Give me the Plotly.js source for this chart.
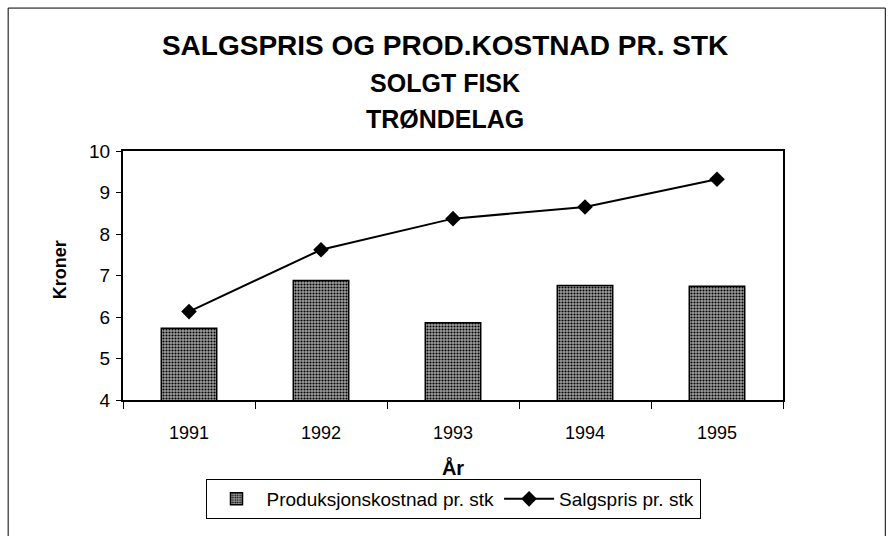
<!DOCTYPE html>
<html>
<head>
<meta charset="utf-8">
<script src="https://cdn.plot.ly/plotly-3.0.1.min.js"></script>
<style>html,body{margin:0;padding:0;background:#fff;} #chart{width:890px;height:536px;}</style>
</head>
<body>
<div id="chart"></div>
<script>
const years = ['1991', '1992', '1993', '1994', '1995'];
const prodCost = [5.73, 6.88, 5.86, 6.76, 6.74];
const salesPrice = [6.13, 7.62, 8.37, 8.65, 9.32];
const seriesNames = ['Produksjonskostnad pr. stk', 'Salgspris pr. stk'];
const yAxisLabel = 'Kroner';

const font = 'Liberation Sans, Arial, sans-serif';

const traces = [
  {
    type: 'bar', x: years, y: prodCost, name: seriesNames[0], width: 0.42,
    marker: {
      color: '#ffffff',
      pattern: {shape: '.', fgcolor: '#000', bgcolor: '#a0a0a0', size: 3, solidity: 0.4},
      line: {color: '#000', width: 1.5}
    }
  },
  {
    type: 'scatter', mode: 'lines+markers', x: years, y: salesPrice, name: seriesNames[1],
    line: {color: '#000', width: 2},
    marker: {symbol: 'diamond', size: 12, color: '#000'}
  }
];

const layout = {
  width: 890, height: 536,
  margin: {l: 123, r: 107, t: 151, b: 136},
  paper_bgcolor: '#fff', plot_bgcolor: '#fff',
  font: {family: font, color: '#000', size: 18},
  title: {
    text: '<b>SALGSPRIS OG PROD.KOSTNAD PR. STK</b><br><b><span style="font-size:25px">SOLGT FISK</span></b><br><b><span style="font-size:25px">TRØNDELAG</span></b>',
    font: {family: font, size: 28, color: '#000'},
    x: 0.488, xanchor: 'center', xref: 'paper',
    y: 0.897, yanchor: 'top', yref: 'container'
  },
  showlegend: true,
  legend: {
    orientation: 'h', x: 0.5, xanchor: 'center', xref: 'paper',
    y: 0.069, yanchor: 'middle', yref: 'container',
    bordercolor: '#000', borderwidth: 1, bgcolor: '#fff',
    font: {family: font, size: 19, color: '#000'},
    itemwidth: 50, traceorder: 'normal'
  },
  xaxis: {
    type: 'category',
    showline: true, linecolor: '#000', linewidth: 2, mirror: true,
    ticks: 'outside', tickson: 'boundaries', ticklen: 7, tickcolor: '#000',
    ticklabelstandoff: 15,
    showgrid: false, zeroline: false,
    tickfont: {family: font, size: 18, color: '#000'},
    title: {text: '<b>År</b>', font: {family: font, size: 20, color: '#000'}, standoff: 21}
  },
  yaxis: {
    range: [4, 10], dtick: 1,
    showline: true, linecolor: '#000', linewidth: 2, mirror: true,
    ticks: 'outside', ticklen: 5, tickcolor: '#000',
    ticklabelstandoff: 2,
    showgrid: false, zeroline: false,
    tickfont: {family: font, size: 19, color: '#000'}
  },
  annotations: [
    {text: '<b>' + yAxisLabel + '</b>', xref: 'paper', yref: 'paper', x: -0.095, y: 0.522,
     xanchor: 'center', yanchor: 'middle', textangle: -90, showarrow: false,
     font: {family: font, size: 18, color: '#000'}}
  ],
  shapes: [
    {type: 'rect', xref: 'paper', yref: 'paper', x0: -0.174, x1: 1.155, y0: -0.6, y1: 1.574,
     line: {color: '#000', width: 1}, fillcolor: 'rgba(0,0,0,0)', layer: 'below'}
  ]
};

Plotly.newPlot('chart', traces, layout, {displayModeBar: false, staticPlot: true});
</script>
</body>
</html>
